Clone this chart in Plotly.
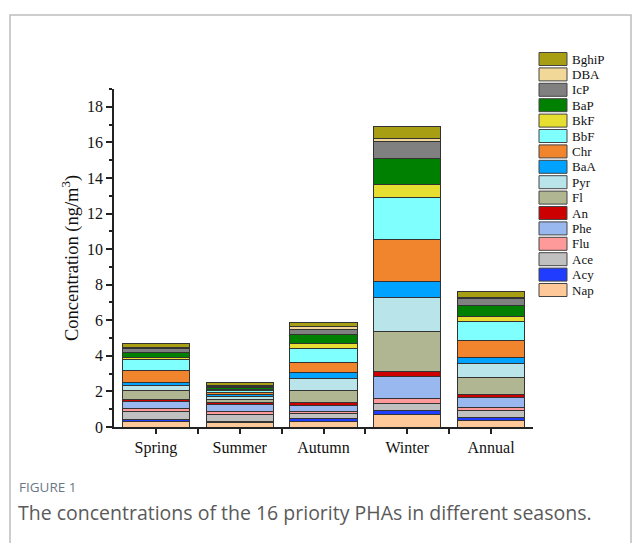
import plotly.graph_objects as go

# Seasonal PAH concentrations (ng/m3), stacked from Nap (bottom) to BghiP (top)
seasons = ["Spring", "Summer", "Autumn", "Winter", "Annual"]
compounds = ["Nap", "Acy", "Ace", "Flu", "Phe", "An", "Fl", "Pyr",
             "BaA", "Chr", "BbF", "BkF", "BaP", "IcP", "DBA", "BghiP"]
spring = [0.30, 0.13, 0.45, 0.15, 0.38, 0.15, 0.48, 0.30, 0.17, 0.68, 0.58, 0.15, 0.26, 0.25, 0.05, 0.23]
summer = [0.24, 0.08, 0.36, 0.21, 0.36, 0.11, 0.19, 0.15, 0.11, 0.11, 0.13, 0.06, 0.09, 0.09, 0.06, 0.13]
autumn = [0.32, 0.13, 0.30, 0.13, 0.34, 0.15, 0.69, 0.64, 0.35, 0.55, 0.83, 0.24, 0.52, 0.30, 0.15, 0.25]
winter = [0.69, 0.21, 0.43, 0.28, 1.24, 0.28, 2.25, 1.91, 0.88, 2.39, 2.36, 0.73, 1.46, 0.92, 0.21, 0.65]
annual = [0.39, 0.13, 0.38, 0.21, 0.56, 0.17, 0.93, 0.79, 0.36, 0.97, 1.02, 0.28, 0.62, 0.39, 0.09, 0.32]
colors = ["#FFC899", "#1F3CFF", "#C0C0C0", "#FF9A9A", "#99B8F0", "#CC0000",
          "#B0B592", "#B8E4EA", "#00A2FF", "#F0852D", "#80FFFF", "#E6DE30",
          "#008000", "#808080", "#F2D898", "#A89E14"]
y_ticks = [0, 2, 4, 6, 8, 10, 12, 14, 16, 18]

season_values = [spring, summer, autumn, winter, annual]
xpos = list(range(len(seasons)))

W, H = 641, 543
L, R, T, B = 114, 108, 89, 116
PW, PH = W - L - R, H - T - B


def px_x(px):
    return (px - L) / PW


def px_y(py):
    return (H - B - py) / PH


SERIF = "Liberation Serif, Times New Roman, serif"

fig = go.Figure()
for i, name in enumerate(compounds):
    fig.add_trace(go.Bar(
        x=xpos,
        y=[vals[i] for vals in season_values],
        name=name,
        marker=dict(color=colors[i], line=dict(color="#333333", width=1)),
        width=0.8,
        showlegend=False,
    ))

shapes = []
annotations = []

# Legend drawn as swatches, top entry BghiP down to Nap
pitch = 15.4
top_center = 59
for k, idx in enumerate(reversed(range(len(compounds)))):
    cy = top_center + k * pitch
    shapes.append(dict(
        type="rect", xref="paper", yref="paper",
        x0=px_x(539), x1=px_x(567), y0=px_y(cy + 6.5), y1=px_y(cy - 6.5),
        fillcolor=colors[idx], line=dict(color="#444444", width=1),
    ))
    annotations.append(dict(
        xref="paper", yref="paper", x=px_x(570), y=px_y(cy),
        text=compounds[idx], showarrow=False, xanchor="left", yanchor="middle",
        font=dict(family=SERIF, size=13, color="#111111"),
    ))

# Outer frame around the figure and caption
shapes.append(dict(
    type="rect", xref="paper", yref="paper",
    x0=px_x(10), x1=px_x(631), y0=px_y(600), y1=px_y(15),
    line=dict(color="#BDBDBD", width=1.5), fillcolor="rgba(0,0,0,0)", layer="below",
))

annotations.append(dict(
    xref="paper", yref="paper", x=px_x(17), y=px_y(487),
    text="FIGURE 1", showarrow=False, xanchor="left", yanchor="middle",
    font=dict(family="Open Sans, sans-serif", size=13.5, color="#6A7785"),
))
annotations.append(dict(
    xref="paper", yref="paper", x=px_x(16), y=px_y(512),
    text="The concentrations of the 16 priority PHAs in different seasons.",
    showarrow=False, xanchor="left", yanchor="middle",
    font=dict(family="Open Sans, sans-serif", size=19.5, color="#5A5A5A"),
))

fig.update_layout(
    width=W, height=H,
    margin=dict(l=L, r=R, t=T, b=B, pad=0),
    paper_bgcolor="white", plot_bgcolor="white",
    barmode="stack",
    shapes=shapes,
    annotations=annotations,
    xaxis=dict(
        range=[-0.5, len(seasons) - 0.5],
        tickmode="array", tickvals=xpos, ticktext=seasons,
        ticks="outside", ticklen=5, tickwidth=1.5, tickcolor="#222222",
        minor=dict(tickmode="array", tickvals=[p + 0.5 for p in xpos[:-1]],
                   ticks="outside", ticklen=5, tickwidth=1.5, tickcolor="#222222"),
        showline=True, linecolor="#222222", linewidth=1.5,
        showgrid=False, zeroline=False,
        tickfont=dict(family=SERIF, size=16, color="#111111"),
    ),
    yaxis=dict(
        range=[0, 19],
        tickmode="array", tickvals=y_ticks,
        ticks="outside", ticklen=6, tickwidth=1.5, tickcolor="#222222",
        minor=dict(tickmode="array", tickvals=[v + 1 for v in y_ticks],
                   ticks="outside", ticklen=3.5, tickwidth=1.5, tickcolor="#222222"),
        showline=True, linecolor="#222222", linewidth=1.5,
        showgrid=False, zeroline=False,
        tickfont=dict(family=SERIF, size=16, color="#111111"),
        title=dict(text="Concentration (ng/m<sup>3</sup>)", standoff=4,
                   font=dict(family=SERIF, size=18.5, color="#111111")),
    ),
)

fig.write_html("out.html")
